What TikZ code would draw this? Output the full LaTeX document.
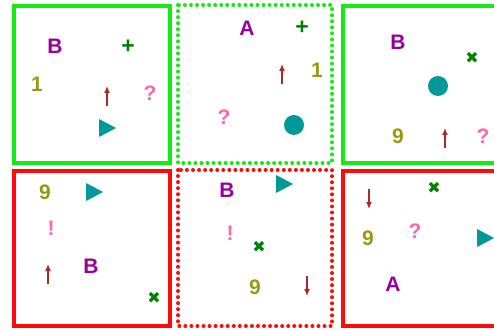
\documentclass[tikz,border=0pt]{standalone}
\usepackage{fontspec}
\usetikzlibrary{arrows.meta}
\setmainfont{Liberation Sans}
\newfontfamily\dejavu{DejaVu Sans}
\definecolor{gbord}{RGB}{20,235,20}
\definecolor{rbord}{RGB}{255,10,10}
\definecolor{cpur}{RGB}{153,0,153}
\definecolor{colive}{RGB}{153,153,17}
\definecolor{cpink}{RGB}{255,102,178}
\definecolor{cgreen}{RGB}{0,130,0}
\definecolor{cteal}{RGB}{0,153,153}
\definecolor{cdred}{RGB}{170,40,40}
\tikzset{
  solidbox/.style={line width=4.5pt},
  dotbox/.style={line width=4pt, line cap=round, dash pattern=on 0pt off 6.05pt},
  lbl/.style={font=\bfseries\fontsize{21}{21}\selectfont, inner sep=0pt},
  letA/.style={lbl, text=cpur},
  digit/.style={lbl, text=colive},
  qm/.style={lbl, text=cpink},
  plussym/.style={inner sep=0pt, text=cgreen, font=\bfseries\fontsize{23}{23}\selectfont},
  timessym/.style={inner sep=0pt, text=cgreen, font=\dejavu\fontsize{16}{16}\selectfont},
  arr/.style={draw=cdred, line width=1.3pt, -{Latex[length=7pt,width=6pt]}},
  dot/.style={circle, fill=cteal, minimum size=20pt, inner sep=0pt},
  tri/.style={fill=cteal},
}
\newcommand{\tri}[2]{\fill[tri] (#1-8,#2-9) -- (#1+9,#2) -- (#1-8,#2+9) -- cycle;}
\newcommand{\uparr}[2]{\draw[arr] (#1,#2+10) -- (#1,#2-10);}
\newcommand{\dnarr}[2]{\draw[arr] (#1,#2-10) -- (#1,#2+10);}
\begin{document}
\begin{tikzpicture}[x=1pt,y=-1pt]
\useasboundingbox (0,0) rectangle (494,331);
\fill[white] (0,0) rectangle (494,331);
% boxes
\draw[solidbox, gbord] (14,6) rectangle (170,163);
\draw[dotbox, gbord] (178,5) rectangle (332,163);
\draw[solidbox, gbord] (343,6) rectangle (499,163);
\draw[solidbox, rbord] (14,171) rectangle (170,326);
\draw[dotbox, rbord] (178,170) rectangle (332,326);
\draw[solidbox, rbord] (343,171) rectangle (499,326);
% panel 1
\node[letA] (p1b) at (55,46) {B};
\node[plussym] (p1p) at (128,47) {+};
\node[digit] (p1n) at (37,84) {1};
\uparr{107}{96}
\node[qm] (p1q) at (150,93) {?};
\tri{107}{128}
% panel 2
\node[letA] (p2a) at (247,28) {A};
\node[plussym] (p2p) at (302,28) {+};
\uparr{282}{74}
\node[digit] (p2n) at (317,70) {1};
\node[qm] (p2q) at (224,117) {?};
\node[dot] (p2c) at (294,125) {};
% panel 3
\node[letA] (p3b) at (398,42) {B};
\node[timessym] (p3x) at (472,58) {✖};
\node[dot] (p3c) at (438,86) {};
\node[digit] (p3n) at (398,136) {9};
\uparr{445}{138}
\node[qm] (p3q) at (483,136) {?};
% panel 4
\node[digit] (p4n) at (45,192) {9};
\tri{94}{192}
\node[qm] (p4e) at (51,228) {!};
\uparr{48}{274}
\node[letA] (p4b) at (91,266) {B};
\node[timessym] (p4x) at (154,298) {✖};
% panel 5
\node[letA] (p5b) at (227,190) {B};
\tri{284}{184}
\node[qm] (p5e) at (230,233) {!};
\node[timessym] (p5x) at (259,247) {✖};
\node[digit] (p5n) at (255,287) {9};
\dnarr{307}{286}
% panel 6
\dnarr{369}{199}
\node[timessym] (p6x) at (434,188) {✖};
\node[qm] (p6q) at (415,231) {?};
\node[digit] (p6n) at (368,238) {9};
\tri{485}{238}
\node[letA] (p6a) at (393,284) {A};
\end{tikzpicture}
\end{document}
